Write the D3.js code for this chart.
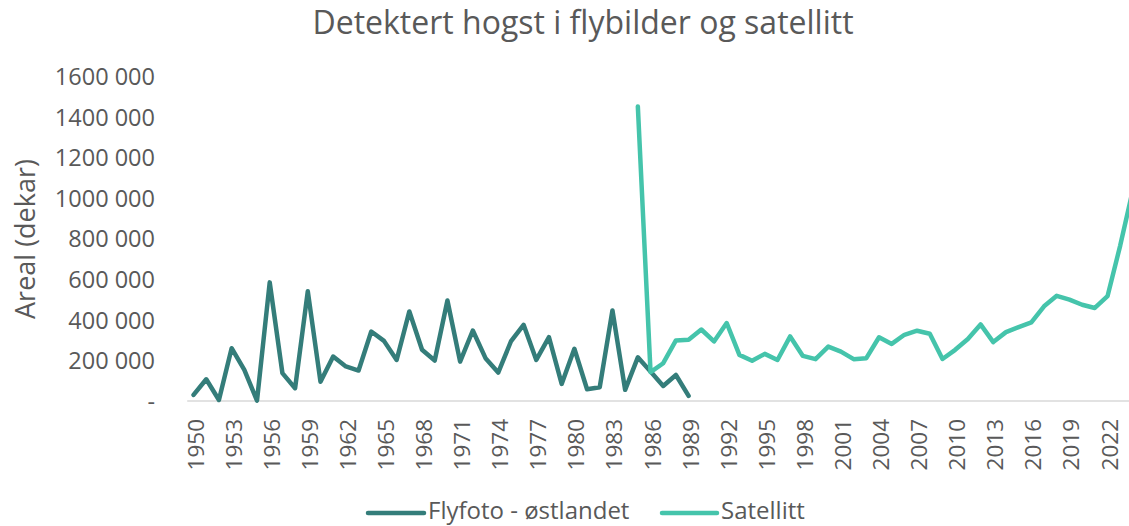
<!DOCTYPE html>
<html><head><meta charset="utf-8">
<script src="https://cdn.jsdelivr.net/npm/d3@7"></script>
<style>
html,body{margin:0;padding:0;background:#fff;overflow:hidden;}
svg{display:block;font-family:"Open Sans",sans-serif;}
</style></head>
<body>
<script>
const title = "Detektert hogst i flybilder og satellitt";
const yTitle = "Areal (dekar)";
const seriesNames = ["Flyfoto - østlandet", "Satellitt"];
const years = d3.range(1950, 2025);
const flyfotoYears = d3.range(1950, 1990);
const flyfoto = [30000,107000,5000,260000,153000,2000,584000,137000,63000,540000,
  95000,219000,170000,150000,342000,296000,202000,441000,252000,199000,
  495000,194000,347000,211000,140000,293000,375000,202000,314000,84000,
  257000,58000,68000,446000,55000,215000,145000,74000,128000,25000];
const satellittYears = d3.range(1985, 2025);
const satellitt = [1450000,142000,186000,298000,301000,352000,293000,384000,227000,198000,
  232000,202000,318000,222000,206000,268000,243000,206000,211000,314000,
  281000,326000,346000,331000,207000,252000,305000,377000,290000,339000,
  364000,387000,466000,518000,499000,474000,458000,516000,765000,1040000];
const yTicks = [0,200000,400000,600000,800000,1000000,1200000,1400000,1600000];
const xTickYears = d3.range(1950, 2025, 3);

const W = 1129, H = 526;
const colors = ["#347D7A", "#45C4AB"];
const textColor = "#595959";

const svg = d3.select("body").append("svg").attr("width", W).attr("height", H);

const x = d3.scaleBand().domain(years).range([187.2, 187.2 + 75 * 12.694]).paddingInner(0).paddingOuter(0);
const y = d3.scaleLinear().domain([0, 1600000]).range([401, 76]);
const cx = d => x(d) + x.bandwidth() / 2;

// title
svg.append("text").attr("x", 583).attr("y", 34).attr("text-anchor", "middle")
  .attr("fill", textColor).style("font-size", "32px").text(title);

// y axis labels
const yAxis = d3.axisLeft(y).tickValues(yTicks).tickSize(0).tickPadding(0)
  .tickFormat(v => v === 0 ? "-" : (v / 1000) + " 000");
const ya = svg.append("g").attr("transform", "translate(155,0)").call(yAxis);
ya.select(".domain").remove();
ya.selectAll("text").attr("fill", textColor).style("font-size", "23.5px")
  .style("font-family", "'Open Sans',sans-serif").attr("dy", "0.36em");

// y title
svg.append("text").attr("transform", "translate(35,239) rotate(-90)")
  .attr("text-anchor", "middle").attr("fill", textColor).style("font-size", "27px").text(yTitle);

// x axis
const xAxis = d3.axisBottom(x).tickValues(xTickYears).tickSize(0).tickPadding(0);
const xa = svg.append("g").attr("transform", "translate(0,401)").call(xAxis);
xa.select(".domain").attr("stroke", "#d9d9d9").attr("stroke-width", 1.5)
  .attr("d", `M${x.range()[0]},0H${x.range()[1]}`);
xa.selectAll("text").attr("fill", textColor).style("font-size", "22.5px")
  .style("font-family", "'Open Sans',sans-serif")
  .attr("text-anchor", "end").attr("dy", null).attr("y", 0)
  .attr("transform", "translate(1.5,18) rotate(-90)").attr("dominant-baseline", "central");

// lines
const line = d3.line().x(d => cx(d[0])).y(d => y(d[1]));
const s1 = flyfotoYears.map((yr, i) => [yr, flyfoto[i]]);
const s2 = satellittYears.map((yr, i) => [yr, satellitt[i]]);
[s1, s2].forEach((s, i) => {
  svg.append("path").datum(s).attr("d", line).attr("fill", "none")
    .attr("stroke", colors[i]).attr("stroke-width", 4.5)
    .attr("stroke-linejoin", "round").attr("stroke-linecap", "round");
});

// legend
const legend = [{x0: 368, x1: 424, tx: 428}, {x0: 662, x1: 717, tx: 721}];
legend.forEach((l, i) => {
  svg.append("line").attr("x1", l.x0).attr("x2", l.x1).attr("y1", 513).attr("y2", 513)
    .attr("stroke", colors[i]).attr("stroke-width", 4.5).attr("stroke-linecap", "round");
  svg.append("text").attr("x", l.tx).attr("y", 519)
    .attr("fill", textColor).style("font-size", "24px").text(seriesNames[i]);
});
</script>
</body></html>
